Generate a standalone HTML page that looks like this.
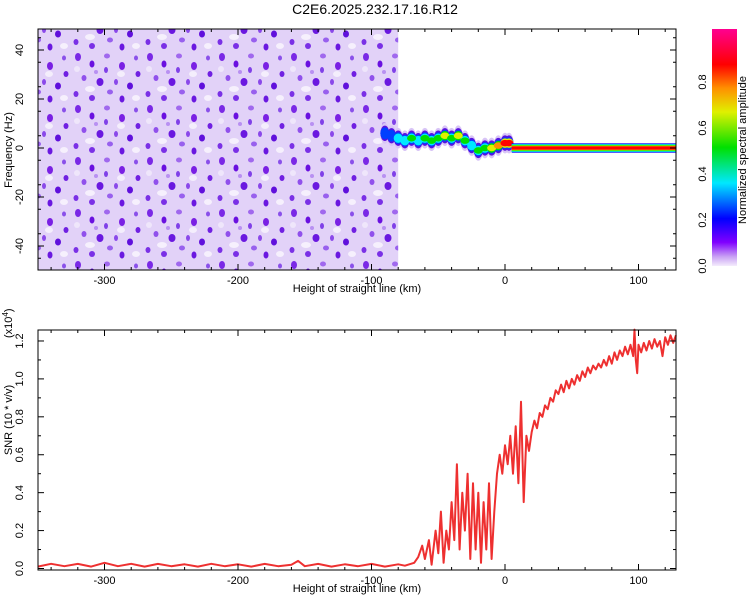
<!DOCTYPE html>
<html><head><meta charset="utf-8"><style>
body{margin:0;background:#fff;width:750px;height:600px;overflow:hidden;font-family:"Liberation Sans",sans-serif}
svg text{font-family:"Liberation Sans",sans-serif;font-size:11px;fill:#000}
</style></head><body>
<svg id="c" width="750" height="600" xmlns="http://www.w3.org/2000/svg">
<defs>
<linearGradient id="cbg" x1="0" y1="1" x2="0" y2="0">
<stop offset="0" stop-color="#f4ecfc"/><stop offset="0.04" stop-color="#c8a0f4"/><stop offset="0.1" stop-color="#8000ff"/>
<stop offset="0.2" stop-color="#0000ff"/><stop offset="0.35" stop-color="#00e8ff"/><stop offset="0.5" stop-color="#00e000"/>
<stop offset="0.65" stop-color="#e0f000"/><stop offset="0.75" stop-color="#ff9000"/><stop offset="0.85" stop-color="#ff0000"/>
<stop offset="1" stop-color="#ff0090"/></linearGradient>
<pattern id="noise" width="72" height="52" patternUnits="userSpaceOnUse">
<rect width="72" height="52" fill="#e2d2f8"/>
<ellipse cx="18" cy="37" rx="5" ry="3" fill="#f6f0fd"/><ellipse cx="49" cy="22" rx="4" ry="3" fill="#f4eefc"/>
<ellipse cx="64" cy="46" rx="4" ry="3" fill="#f6f0fd"/><ellipse cx="5" cy="17" rx="3" ry="3" fill="#efe6fb"/>
<ellipse cx="6" cy="5" rx="3" ry="4" fill="#7a28e6"/><ellipse cx="20" cy="12" rx="2.5" ry="3.5" fill="#6a10e0"/>
<ellipse cx="35" cy="4" rx="3" ry="2.5" fill="#a068ee"/><ellipse cx="50" cy="14" rx="3" ry="4" fill="#7a20e4"/>
<ellipse cx="12" cy="26" rx="2.5" ry="3" fill="#9050ec"/><ellipse cx="28" cy="30" rx="3.5" ry="4" fill="#6a18e0"/>
<ellipse cx="44" cy="30" rx="2" ry="3" fill="#8a48ea"/><ellipse cx="58" cy="34" rx="3" ry="3.5" fill="#6010dc"/>
<ellipse cx="4" cy="42" rx="2.5" ry="3" fill="#7a30e6"/><ellipse cx="38" cy="40" rx="3" ry="2.5" fill="#9860ee"/>
<ellipse cx="24" cy="20" rx="2" ry="2" fill="#b890f2"/><ellipse cx="64" cy="6" rx="2" ry="2.5" fill="#8a50ea"/>
<ellipse cx="66" cy="22" rx="2.5" ry="3" fill="#7020e2"/><ellipse cx="34" cy="18" rx="2" ry="3" fill="#8040e8"/>
<ellipse cx="20" cy="46" rx="3" ry="3" fill="#7a30e6"/><ellipse cx="50" cy="47" rx="2.5" ry="3.5" fill="#6a18e0"/>
</pattern>
</defs>
<text x="375" y="14" text-anchor="middle" style="font-size:14px">C2E6.2025.232.17.16.R12</text>
<g id="top"></g>
<g id="bot"></g>
<rect x="712" y="29" width="25" height="237" fill="url(#cbg)"/>
<g id="cb"></g>
<text transform="translate(746,150) rotate(-90)" text-anchor="middle">Normalized spectral amplitude</text>
</svg>
<script>
const xTicks=[-300,-200,-100,0,100];
const fTicks=[-40,-20,0,20,40];
const snrTicks=[0,0.2,0.4,0.6,0.8,1.0,1.2];
const cbTicks=[0,0.2,0.4,0.6,0.8];
const trackX=[-90,-85,-80,-75,-70,-65,-60,-55,-50,-45,-40,-35,-30,-25,-20,-15,-10,-5,0,3];
const trackF=[6,5,4,3,4,3,4,3,4,5,4,5,3,1,-1,0,0,1,2,2];
const trackA=[0.3,0.4,0.5,0.5,0.6,0.55,0.6,0.6,0.6,0.65,0.6,0.65,0.6,0.55,0.6,0.6,0.7,0.8,0.85,0.85];
const snrX=[-350,-340,-330,-320,-310,-300,-290,-280,-270,-260,-250,-240,-230,-220,-210,-200,-190,-180,-170,-160,-155,-150,-140,-130,-120,-110,-100,-90,-80,-75,-68,-65,-62,-60,-57,-55,-52,-50,-48,-46,-44,-42,-40,-38,-36,-34,-32,-30,-28,-26,-24,-22,-20,-18,-16,-14,-12,-10,-8,-6,-4,-2,0,2,4,6,8,10,12,14,16,18,20,22,24,26,28,30,32,34,36,38,40,42,44,46,48,50,52,54,56,58,60,62,64,66,68,70,72,74,76,78,80,82,84,86,88,90,92,94,96,97,98,99,100,102,104,106,108,110,112,114,116,118,120,122,124,126,128];
const snrY=[0.01,0.025,0.012,0.024,0.01,0.03,0.012,0.025,0.01,0.024,0.012,0.022,0.01,0.025,0.012,0.022,0.01,0.024,0.012,0.02,0.04,0.012,0.024,0.01,0.022,0.012,0.024,0.01,0.022,0.015,0.03,0.06,0.12,0.05,0.15,0.02,0.2,0.08,0.3,0.03,0.2,0.1,0.35,0.15,0.55,0.1,0.4,0.2,0.5,0.05,0.45,0.1,0.4,0.03,0.35,0.1,0.45,0.05,0.3,0.5,0.6,0.5,0.65,0.55,0.7,0.5,0.75,0.45,0.88,0.35,0.7,0.62,0.72,0.78,0.74,0.82,0.8,0.86,0.84,0.9,0.88,0.94,0.92,0.97,0.93,0.99,0.95,1.0,0.97,1.02,0.99,1.04,1.01,1.06,1.03,1.07,1.05,1.08,1.06,1.1,1.07,1.12,1.08,1.14,1.1,1.15,1.12,1.17,1.13,1.18,1.12,1.26,1.1,1.03,1.18,1.14,1.19,1.15,1.2,1.16,1.21,1.17,1.2,1.12,1.22,1.18,1.23,1.19,1.23];
const NS="http://www.w3.org/2000/svg";
function mk(p,t,a){const e=document.createElementNS(NS,t);for(const k in a)e.setAttribute(k,a[k]);p.appendChild(e);return e;}
const L=38,R=676;
const X=v=>505+(v)*1.335;
const TT=29,TB=270;const F=v=>148-v*2.45;
const BT=330,BB=570;const S=v=>568.5-v*189.6;
const gTop=document.getElementById('top'),gBot=document.getElementById('bot'),gCb=document.getElementById('cb');
let n=mk(gTop,'rect',{x:L,y:TT,width:X(-80)-L,height:TB-TT,fill:'url(#noise)'});


function col(a){const s=[[0,'#8000ff'],[0.2,'#0000ff'],[0.35,'#00e8ff'],[0.5,'#00e000'],[0.65,'#e0f000'],[0.75,'#ff9000'],[0.85,'#ff0000']];let c=s[0][1];for(const q of s)if(a>=q[0])c=q[1];return c;}
const layers=[[0,6,'#d8c4f6'],[0,4.2,'#5a10e0'],[0.3,3,'#0040ff'],[0.45,2.2,null],[0.6,1.2,null]];
for(const [minA,r,c] of layers){
  for(let i=0;i<trackX.length;i++){
    if(trackA[i]<minA)continue;
    const a=c?null:(r<2?trackA[i]:trackA[i]*0.8);
    let e=mk(gTop,'ellipse',{cx:X(trackX[i]),cy:F(trackF[i]),rx:4.5,ry:r*2.45*0.6+1.5,fill:c||col(a)});
    
    
  }
}
const band=[[1.9,'#0000ff'],[1.6,'#00e8ff'],[1.3,'#00e000'],[1.0,'#e0f000'],[0.7,'#ff0000']];
for(const [h,c] of band){let e=mk(gTop,'rect',{x:X(5),y:F(h),width:R-X(5),height:F(-h)-F(h),fill:c});

}
mk(gTop,'rect',{x:L,y:TT,width:R-L,height:TB-TT,fill:'none',stroke:'#000','stroke-width':1});
function axes(g,yT,yB,ticks,Y,fmt){
  for(let v=-340;v<=120;v+=20){const big=v%100===0,l=big?6:3;
    mk(g,'line',{x1:X(v),x2:X(v),y1:yB,y2:yB-l,stroke:'#000'});mk(g,'line',{x1:X(v),x2:X(v),y1:yT,y2:yT+l,stroke:'#000'});}
  for(const v of xTicks){let t=mk(g,'text',{x:X(v),y:yB+14,'text-anchor':'middle'});t.textContent=v;
    
    }
  let xt=mk(g,'text',{x:357,y:yB+22,'text-anchor':'middle'});xt.textContent='Height of straight line (km)';
  
  
  for(const v of ticks){const y=Y(v);mk(g,'line',{x1:L,x2:L+6,y1:y,y2:y,stroke:'#000'});mk(g,'line',{x1:R,x2:R-6,y1:y,y2:y,stroke:'#000'});
    let t=mk(g,'text',{transform:`translate(23,${y}) rotate(-90)`,'text-anchor':'middle'});t.textContent=fmt(v);
    
    }
}
axes(gTop,TT,TB,fTicks,F,v=>v);
for(let v=-45;v<=45;v+=10){mk(gTop,'line',{x1:L,x2:L+3,y1:F(v),y2:F(v),stroke:'#000'});mk(gTop,'line',{x1:R,x2:R-3,y1:F(v),y2:F(v),stroke:'#000'});}
let yt=mk(gTop,'text',{transform:'translate(12,150) rotate(-90)','text-anchor':'middle'});yt.textContent='Frequency (Hz)';


let d='';for(let i=0;i<snrX.length;i++)d+=(i?'L':'M')+X(snrX[i]).toFixed(1)+','+S(snrY[i]).toFixed(1);
let p=mk(gBot,'path',{d:d,fill:'none',stroke:'#ee3030','stroke-width':2,'stroke-linejoin':'round'});


mk(gBot,'rect',{x:L,y:BT,width:R-L,height:BB-BT,fill:'none',stroke:'#000'});
axes(gBot,BT,BB,snrTicks,S,v=>v.toFixed(1));
for(let v=0.1;v<1.25;v+=0.2){mk(gBot,'line',{x1:L,x2:L+3,y1:S(v),y2:S(v),stroke:'#000'});mk(gBot,'line',{x1:R,x2:R-3,y1:S(v),y2:S(v),stroke:'#000'});}
let st=mk(gBot,'text',{transform:'translate(12,420) rotate(-90)','text-anchor':'middle'});st.textContent='SNR (10 * v/v)';


let sc=mk(gBot,'text',{transform:'translate(12,338) rotate(-90)'});sc.innerHTML='(x10<tspan dy="-4" style="font-size:8px">4</tspan><tspan dy="4">)</tspan>';


for(const v of cbTicks){const y=266-v*230;let t=mk(gCb,'text',{transform:`translate(706,${y}) rotate(-90)`,'text-anchor':'middle'});t.textContent=v.toFixed(1);
  
  }
</script>
</body></html>
